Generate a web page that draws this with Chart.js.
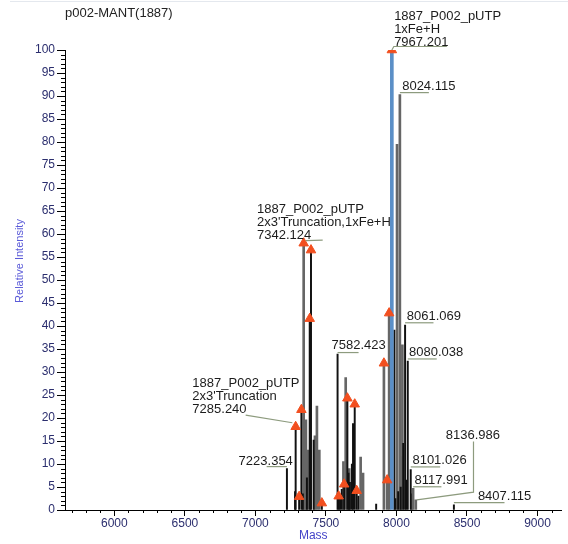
<!DOCTYPE html>
<html>
<head>
<meta charset="utf-8">
<script src="https://cdn.jsdelivr.net/npm/chart.js@4.4.1/dist/chart.umd.min.js"></script>
<style>
  html, body { margin: 0; padding: 0; background: #fff; }
  #spectrum { display: block; }
</style>
</head>
<body>
<canvas id="spectrum" width="568" height="544"></canvas>
<script>
/* Spectrum data */
const xTicks = [6000, 6500, 7000, 7500, 8000, 8500, 9000];
const yTicks = [0, 5, 10, 15, 20, 25, 30, 35, 40, 45, 50, 55, 60, 65, 70, 75, 80, 85, 90, 95, 100];

// thin dark sticks
const blackMass = [7223.354, 7281, 7285.240, 7310, 7326, 7336, 7365, 7385, 7394, 7413, 7471,
  7582.423, 7590, 7600, 7612, 7629, 7652, 7660, 7670, 7684, 7692, 7704, 7718, 7730, 7856,
  7985, 7992, 8012, 8030, 8048, 8061.069, 8070, 8080.038, 8101.026, 8407.115];
const blackIntensity = [9.0, 4.0, 18.1, 2.9, 21.8, 3.5, 7.0, 41.6, 56.5, 15.2, 1.5,
  33.9, 3.0, 2.5, 4.5, 5.6, 24.3, 8.0, 6.0, 10.0, 18.8, 23.0, 4.2, 3.0, 1.3,
  39.1, 2.5, 4.0, 5.0, 14.5, 40.2, 6.5, 32.4, 8.8, 1.1];

// wider grey sticks
const grayMass = [7342.124, 7350, 7358, 7375, 7422, 7436, 7453, 7624, 7640, 7665, 7746, 7763,
  7911, 7934, 7948, 8004, 8024.115, 8028, 8042, 8110, 8117.991, 8136.986];
const grayIntensity = [58.0, 12.0, 19.6, 13.0, 16.1, 22.6, 13.0, 10.5, 28.8, 9.0, 11.5, 8.0,
  31.9, 6.5, 42.8, 79.5, 90.3, 11.6, 35.9, 3.5, 4.7, 2.2];

// base peak
const baseMass = [7967.201];
const baseIntensity = [100];

// identified components (triangles)
const markMass = [7285.240, 7310, 7326, 7342.124, 7385, 7394, 7471, 7590, 7629, 7652, 7704, 7718,
  7911, 7934, 7948, 7967.201];
const markIntensity = [18.1, 2.9, 21.8, 58.0, 41.6, 56.5, 1.5, 3.0, 5.6, 24.3, 23.0, 4.2,
  31.9, 6.5, 42.8, 100];

// annotated peaks
const labelMass = [7967.201, 8024.115, 7342.124, 7582.423, 7285.240, 7223.354,
  8061.069, 8080.038, 8136.986, 8101.026, 8117.991, 8407.115];
const labelNames = [
  ["1887_P002_pUTP", "1xFe+H"], [],
  ["1887_P002_pUTP", "2x3'Truncation,1xFe+H"], [],
  ["1887_P002_pUTP", "2x3'Truncation"], [],
  [], [], [], [], [], []
];

/* Label placement, in pixels from the top of each peak */
const labelPlace = [
  { dx: 2.3, dy: -8, leader: [[0, 0], [2, -3.5], [55, -3.5]] },
  { dx: 2.3, dy: -8, leader: [[0, -2], [29, -2]] },
  { dx: -46.7, dy: -8, leader: [[2, -2.5], [19, -3]] },
  { dx: -6, dy: -8.3, leader: [[0, -1.5], [21, -1.5]] },
  { dx: -103.3, dy: -17.4, leader: [[-50, -11.7], [-3.3, -4]] },
  { dx: -48.3, dy: -7.6, leader: [[-20.3, -2], [0, -2]] },
  { dx: 1.7, dy: -8.3, leader: [[0, -2.3], [28.4, -2.3]] },
  { dx: 1.3, dy: -8.3, leader: [[0, -2], [29, -2]] },
  { dx: 30, dy: -64.3, leader: [[1, 0], [57.7, -7.7], [57.7, -58.3]] },
  { dx: 1.7, dy: -8.6, leader: [[0, -2.6], [29.4, -2.6]] },
  { dx: 1.3, dy: -8.3, leader: [[0, -1.6], [28.3, -1.6]] },
  { dx: 24, dy: -8.3, leader: [[0, -2.3], [50.6, -2.3]] }
];

const FONT = "'Liberation Sans', Arial, sans-serif";

const toPoints = (xs, ys) => xs.map((m, i) => ({ x: m, y: ys[i] }));

const allMass = blackMass.concat(grayMass, baseMass);
const allIntensity = blackIntensity.concat(grayIntensity, baseIntensity);
const peakHeight = (mass) => allIntensity[allMass.indexOf(mass)];

/* Axis minor ticks, titles and peak annotations */
const spectrumDecor = {
  id: "spectrumDecor",
  afterDraw(chart) {
    const { ctx, chartArea } = chart;
    const x = chart.scales.x;
    const y = chart.scales.y;
    ctx.save();

    // faint rule along the top edge
    ctx.strokeStyle = "#e4e8ee";
    ctx.lineWidth = 1;
    ctx.beginPath();
    ctx.moveTo(10, 1.5);
    ctx.lineTo(568, 1.5);
    ctx.stroke();

    // minor ticks
    ctx.strokeStyle = "#000";
    ctx.beginPath();
    for (let v = 0; v <= 100; v += 1) {
      if (v % 5 === 0) continue;
      const py = Math.round(y.getPixelForValue(v)) + 0.5;
      ctx.moveTo(chartArea.left - 4, py);
      ctx.lineTo(chartArea.left, py);
    }
    for (let v = Math.ceil(x.min / 100) * 100; v <= x.max; v += 100) {
      if (v % 500 === 0) continue;
      const px = Math.round(x.getPixelForValue(v)) + 0.5;
      ctx.moveTo(px, chartArea.bottom);
      ctx.lineTo(px, chartArea.bottom + 3);
    }
    ctx.stroke();

    // sample title
    ctx.fillStyle = "#222";
    ctx.font = "13px " + FONT;
    ctx.textBaseline = "middle";
    ctx.textAlign = "left";
    ctx.fillText("p002-MANT(1887)", 65, 13.5);

    // vertical axis title
    ctx.save();
    ctx.translate(20, 261);
    ctx.rotate(-Math.PI / 2);
    ctx.textAlign = "center";
    ctx.fillStyle = "#5a5ad8";
    ctx.font = "11px " + FONT;
    ctx.fillText("Relative Intensity", 0, 0);
    ctx.restore();

    // peak annotations
    labelMass.forEach((mass, i) => {
      const place = labelPlace[i];
      const px = x.getPixelForValue(mass);
      const py = y.getPixelForValue(peakHeight(mass));

      ctx.strokeStyle = "#8d9b7e";
      ctx.lineWidth = 1.2;
      ctx.beginPath();
      place.leader.forEach(([lx, ly], k) => {
        if (k === 0) ctx.moveTo(px + lx, py + ly);
        else ctx.lineTo(px + lx, py + ly);
      });
      ctx.stroke();

      const lines = labelNames[i].concat([mass.toFixed(3)]);
      ctx.fillStyle = "#1c1c1c";
      ctx.font = "13px " + FONT;
      ctx.textAlign = "left";
      lines.forEach((t, k) => {
        const ty = py + place.dy - (lines.length - 1 - k) * 13;
        ctx.fillText(t, px + place.dx, ty);
      });
    });

    ctx.restore();
  }
};

new Chart(document.getElementById("spectrum"), {
  type: "bar",
  data: {
    datasets: [
      {
        type: "scatter",
        data: toPoints(markMass, markIntensity),
        pointStyle: "triangle",
        pointRadius: 5.5,
        backgroundColor: "#f24f1f",
        borderColor: "#f24f1f",
        borderWidth: 1,
        order: 0,
      },
      {
        data: toPoints(baseMass, baseIntensity),
        backgroundColor: "#5b8fc7",
        barThickness: 3,
        grouped: false,
        order: 1,
      },
      {
        data: toPoints(blackMass, blackIntensity),
        backgroundColor: "#111",
        barThickness: 1.3,
        grouped: false,
        order: 2,
      },
      {
        data: toPoints(grayMass, grayIntensity),
        backgroundColor: "#666",
        barThickness: 2,
        grouped: false,
        order: 3,
      },
    ],
  },
  options: {
    responsive: false,
    animation: false,
    layout: { padding: { top: 50, right: 2, left: 0, bottom: 0 } },
    plugins: { legend: { display: false }, tooltip: { enabled: false } },
    scales: {
      x: {
        type: "linear",
        min: 5650,
        max: 9170,
        offset: false,
        afterBuildTicks: (scale) => {
          scale.ticks = xTicks.map((v) => ({ value: v }));
        },
        afterFit: (scale) => {
          scale.height = 34;
        },
        grid: { display: true, drawOnChartArea: false, tickLength: 6, color: "#000", offset: false },
        border: { display: true, color: "#000", width: 1 },
        ticks: {
          color: "#2b2e6e",
          font: { family: FONT, size: 12 },
          padding: 0,
          maxRotation: 0,
          callback: (v) => String(v),
        },
        title: {
          display: true,
          text: "Mass",
          color: "#4343c8",
          font: { family: FONT, size: 12 },
          padding: { top: 0, bottom: 1 },
        },
      },
      y: {
        min: 0,
        max: 100,
        afterBuildTicks: (scale) => {
          scale.ticks = yTicks.map((v) => ({ value: v }));
        },
        afterFit: (scale) => {
          scale.width = 65;
        },
        grid: { display: true, drawOnChartArea: false, tickLength: 8, color: "#000" },
        border: { display: true, color: "#000", width: 1 },
        ticks: {
          color: "#2b2e6e",
          font: { family: FONT, size: 12 },
          padding: 2,
          callback: (v) => String(v),
        },
      },
    },
  },
  plugins: [spectrumDecor],
});
</script>
</body>
</html>
